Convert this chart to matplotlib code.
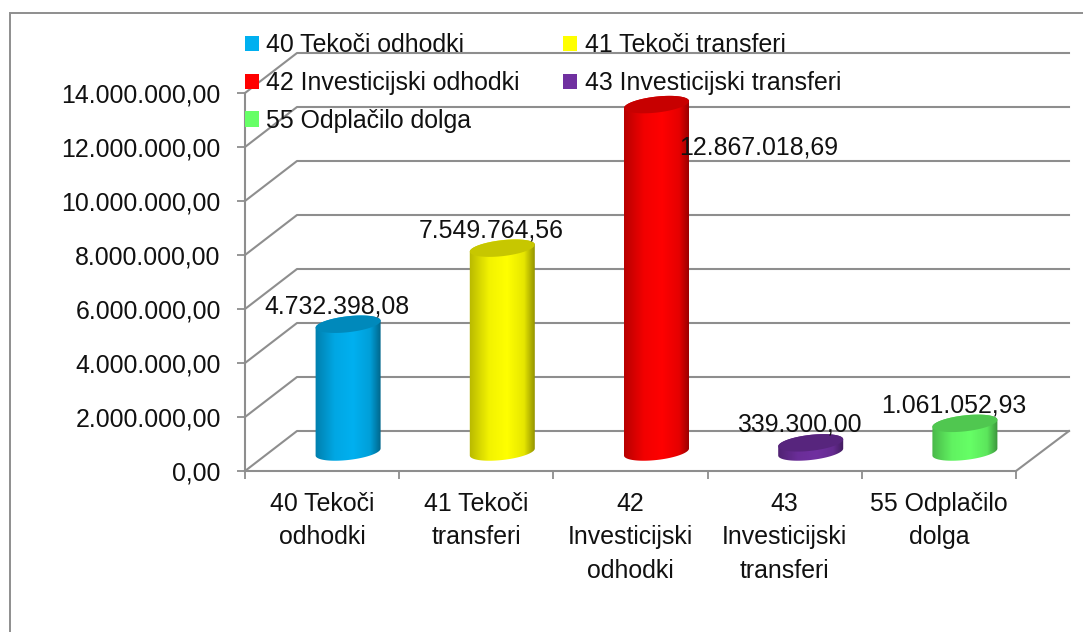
import numpy as np
import matplotlib
matplotlib.use("Agg")
import matplotlib.pyplot as plt
from matplotlib.colors import LinearSegmentedColormap, to_rgb
from matplotlib.lines import Line2D
from matplotlib.patches import PathPatch, Rectangle, Patch
from matplotlib.path import Path
from matplotlib.transforms import IdentityTransform

categories = ["40 Tekoči odhodki", "41 Tekoči transferi", "42 Investicijski odhodki",
              "43 Investicijski transferi", "55 Odplačilo dolga"]
tick_labels = ["40 Tekoči\nodhodki", "41 Tekoči\ntransferi", "42\nInvesticijski\nodhodki",
               "43\nInvesticijski\ntransferi", "55 Odplačilo\ndolga"]
values = [4732398.08, 7549764.56, 12867018.69, 339300.00, 1061052.93]
colors = ["#00B0F0", "#FFFF00", "#FF0000", "#7030A0", "#66FF66"]
y_ticks = [0, 2000000, 4000000, 6000000, 8000000, 10000000, 12000000, 14000000]

plt.rcParams['font.family'] = ['Liberation Sans', 'DejaVu Sans']
GRAY = "#8E8E8E"
FS = 17.9
W, H = 1083, 632
DX, DY = 52, 40   # depth of the 3d floor, pixels


def euro(v):
    return f"{v:,.2f}".replace(",", " ").replace(".", ",").replace(" ", ".")


fig = plt.figure(figsize=(W / 100, H / 100), dpi=100)
ax = fig.add_axes([245 / W, (H - 471) / H, 771 / W, 378 / H])
ax.set_xlim(0, 5)
ax.set_ylim(0, 14000000)
ax.patch.set_alpha(0)

for s in ["top", "right"]:
    ax.spines[s].set_visible(False)
for s in ["left", "bottom"]:
    ax.spines[s].set_color(GRAY)
    ax.spines[s].set_linewidth(1.5)

ax.set_yticks(y_ticks)
ax.set_yticklabels([euro(v) for v in y_ticks], fontsize=FS, color="#111111", va="center_baseline")
ax.tick_params(axis="y", length=6, width=1.3, color=GRAY, pad=11.5)
ax.set_xticks(range(6))
ax.set_xticklabels([])
ax.tick_params(axis="x", which="major", length=6, width=1.3, color=GRAY)
ax.set_xticks(np.arange(5) + 0.5, minor=True)
ax.set_xticklabels(tick_labels, minor=True, fontsize=FS, color="#111111", linespacing=1.5)
ax.tick_params(axis="x", which="minor", length=0, pad=14.8)

# outer chart frame, runs off the picture on the right and bottom
fig.add_artist(Rectangle((10, -20), W + 40, H - 13 + 20, transform=IdentityTransform(),
                         fill=False, ec=GRAY, lw=1.4))


def px(x, v):
    return ax.transData.transform((x, v))


# side wall and back wall grid lines
for v in y_ticks:
    x0, y0 = px(0, v)
    ax.add_line(Line2D([x0, x0 + DX, 1069], [y0, y0 + DY, y0 + DY], color=GRAY, lw=1.5,
                       transform=IdentityTransform(), clip_on=False, zorder=1))
x1, y1 = px(5, 0)
ax.add_line(Line2D([x1, x1 + DX + 1], [y1, y1 + DY], color=GRAY, lw=1.5,
                   transform=IdentityTransform(), clip_on=False, zorder=1))


def ellipse_xy(cx, cy, start, stop, a=32.5, b=8, tilt=3.5):
    t = np.linspace(start, stop, 60)
    return cx + a * np.cos(t), cy + b * np.sin(t) + tilt * np.cos(t)


def cylinder(i, value, color):
    cx, top = px(i + 0.5, value)
    _, base = px(i + 0.5, 0)
    cx += DX / 2
    base += DY / 2 - 1
    top += DY / 2 - 1
    rgb = np.array(to_rgb(color))
    # body: upper half of the top ellipse, then lower half of the base ellipse
    xa, ya = ellipse_xy(cx, top, 0, np.pi)
    xb, yb = ellipse_xy(cx, base, np.pi, 2 * np.pi)
    body = PathPatch(Path(np.column_stack([np.r_[xa, xb], np.r_[ya, yb]])), transform=IdentityTransform(),
                     fc="none", ec="none", clip_on=False, zorder=3)
    ax.add_patch(body)
    cmap = LinearSegmentedColormap.from_list(
        "c", [(0, rgb * 0.72), (0.3, rgb * 0.95), (0.58, rgb), (0.84, rgb * 0.9), (1, rgb * 0.58)])
    im = ax.imshow(np.linspace(0, 1, 128)[None, :], cmap=cmap, aspect="auto", interpolation="bilinear",
                   extent=(cx - 33, cx + 33, base - 12, top + 12), transform=IdentityTransform(), zorder=3)
    im.set_clip_path(body)
    xt, yt = ellipse_xy(cx, top, 0, 2 * np.pi)
    ax.add_patch(PathPatch(Path(np.column_stack([xt, yt])), transform=IdentityTransform(),
                           fc=rgb * 0.78, ec="none", clip_on=False, zorder=4))


for i, (v, c) in enumerate(zip(values, colors)):
    cylinder(i, v, c)
ax.set_xlim(0, 5)
ax.set_ylim(0, 14000000)
ax.set_aspect("auto")

# data labels
for i, v in enumerate(values):
    off = (128, -24) if i == 2 else (15, 37)
    ax.annotate(euro(v), (i + 0.5, v), xytext=off, textcoords="offset pixels", ha="center", va="center",
                fontsize=FS, color="#111111", zorder=6, annotation_clip=False)

# legend, row order 40 41 / 42 43 / 55
order = [0, 2, 4, 1, 3]
handles = [Patch(fc=colors[k], ec="none") for k in order]
leg = fig.legend(handles, [categories[k] for k in order], ncol=2, frameon=False, loc="upper left",
                 bbox_to_anchor=(245 / W, 1 - 33 / H), fontsize=FS, labelcolor="#111111",
                 handlelength=0.56, handleheight=0.56, handletextpad=0.3, labelspacing=0.56,
                 columnspacing=1.75, borderpad=0, borderaxespad=0)
leg.set_zorder(7)

fig.savefig("out.png", dpi=100)
